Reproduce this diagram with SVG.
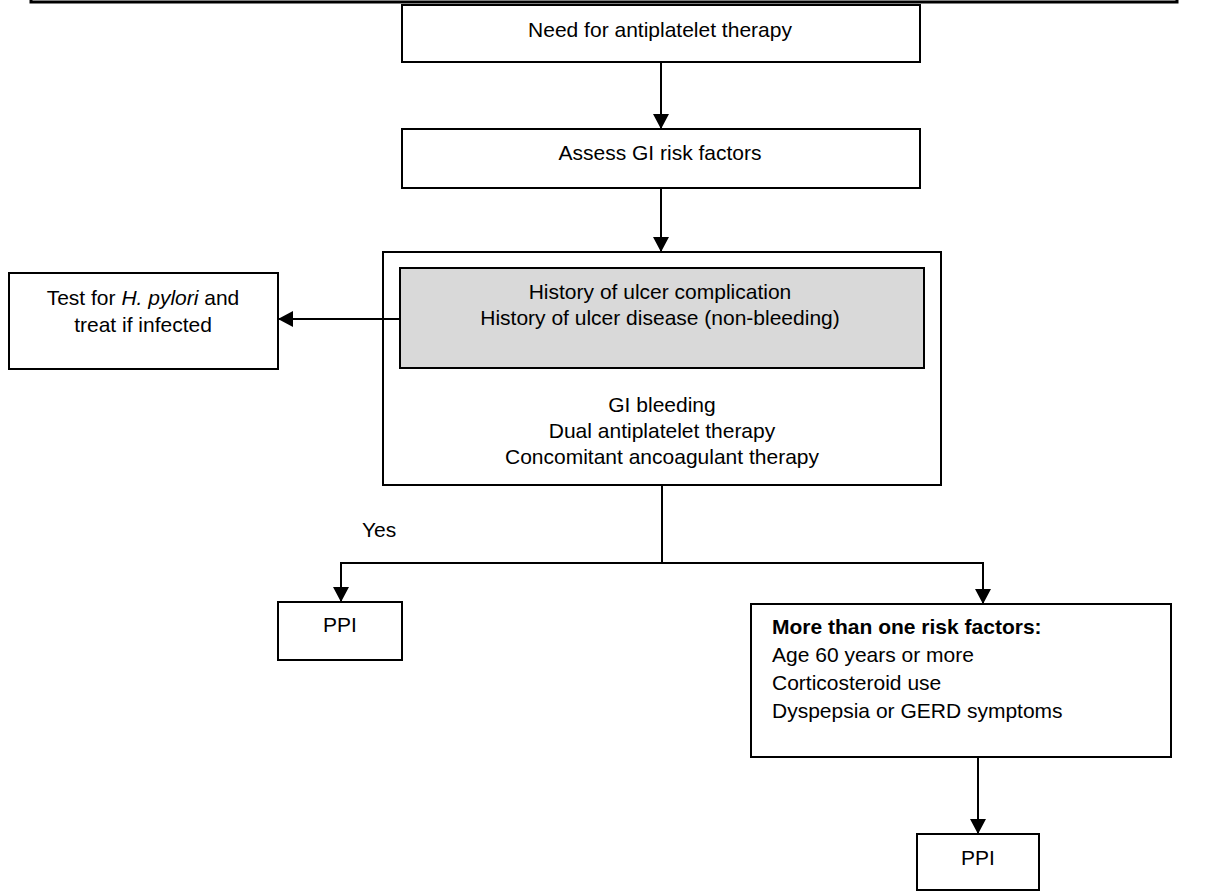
<svg xmlns="http://www.w3.org/2000/svg" width="1206" height="892" viewBox="0 0 1206 892">
<defs>
<style>
.box{fill:#fff;stroke:#000;stroke-width:2}
.gray{fill:#d9d9d9;stroke:#000;stroke-width:2}
.t{font-family:"Liberation Sans",Arial,sans-serif;font-size:21px;fill:#000}
.c{text-anchor:middle}
.ln{fill:none;stroke:#000;stroke-width:2}
</style>
<marker id="ah" markerWidth="16" markerHeight="16" viewBox="0 0 16 16" refX="15" refY="8" orient="auto" markerUnits="userSpaceOnUse">
<path d="M0,0 L15,8 L0,16 Z" fill="#000"/>
</marker>
</defs>
<rect width="1206" height="892" fill="#fff"/>
<g id="frame"><rect x="31" y="-100" width="1146" height="102" fill="none" stroke="#000" stroke-width="3"/></g>
<g id="n1"><rect class="box" x="402" y="5" width="518" height="57"/><text class="t c" x="660" y="37">Need for antiplatelet therapy</text></g>
<g id="n2"><rect class="box" x="402" y="129" width="518" height="59"/><text class="t c" x="660" y="160">Assess GI risk factors</text></g>
<g id="n3"><rect class="box" x="383" y="252" width="558" height="233"/>
<rect class="gray" x="400" y="268" width="524" height="100"/>
<text class="t c" x="660" y="299">History of ulcer complication</text>
<text class="t c" x="660" y="325">History of ulcer disease (non-bleeding)</text>
<text class="t c" x="662" y="412">GI bleeding</text>
<text class="t c" x="662" y="438">Dual antiplatelet therapy</text>
<text class="t c" x="662" y="464">Concomitant ancoagulant therapy</text></g>
<g id="n4"><rect class="box" x="9" y="273" width="269" height="96"/>
<text class="t c" x="143" y="305">Test for <tspan font-style="italic">H. pylori</tspan> and</text>
<text class="t c" x="143" y="332">treat if infected</text></g>
<g id="n5"><rect class="box" x="278" y="602" width="124" height="58"/><text class="t c" x="340" y="632">PPI</text></g>
<g id="n6"><rect class="box" x="751" y="604" width="420" height="153"/>
<text class="t" x="772" y="634" font-weight="bold">More than one risk factors:</text>
<text class="t" x="772" y="662">Age 60 years or more</text>
<text class="t" x="772" y="690">Corticosteroid use</text>
<text class="t" x="772" y="718">Dyspepsia or GERD symptoms</text></g>
<g id="n7"><rect class="box" x="917" y="834" width="122" height="56"/><text class="t c" x="978" y="865">PPI</text></g>
<g id="label"><text class="t" x="362" y="537">Yes</text></g>
<g id="connectors">
<line class="ln" x1="661" y1="62" x2="661" y2="129" marker-end="url(#ah)"/>
<line class="ln" x1="661" y1="188" x2="661" y2="252" marker-end="url(#ah)"/>
<line class="ln" x1="400" y1="319" x2="278" y2="319" marker-end="url(#ah)"/>
<line class="ln" x1="662" y1="485" x2="662" y2="563"/>
<polyline class="ln" points="341,602 341,563 983,563 983,604" stroke-linejoin="miter"/>
<line class="ln" x1="341" y1="563" x2="341" y2="602" marker-end="url(#ah)"/>
<line class="ln" x1="983" y1="563" x2="983" y2="604" marker-end="url(#ah)"/>
<line class="ln" x1="978" y1="757" x2="978" y2="834" marker-end="url(#ah)"/>
</g>
</svg>
